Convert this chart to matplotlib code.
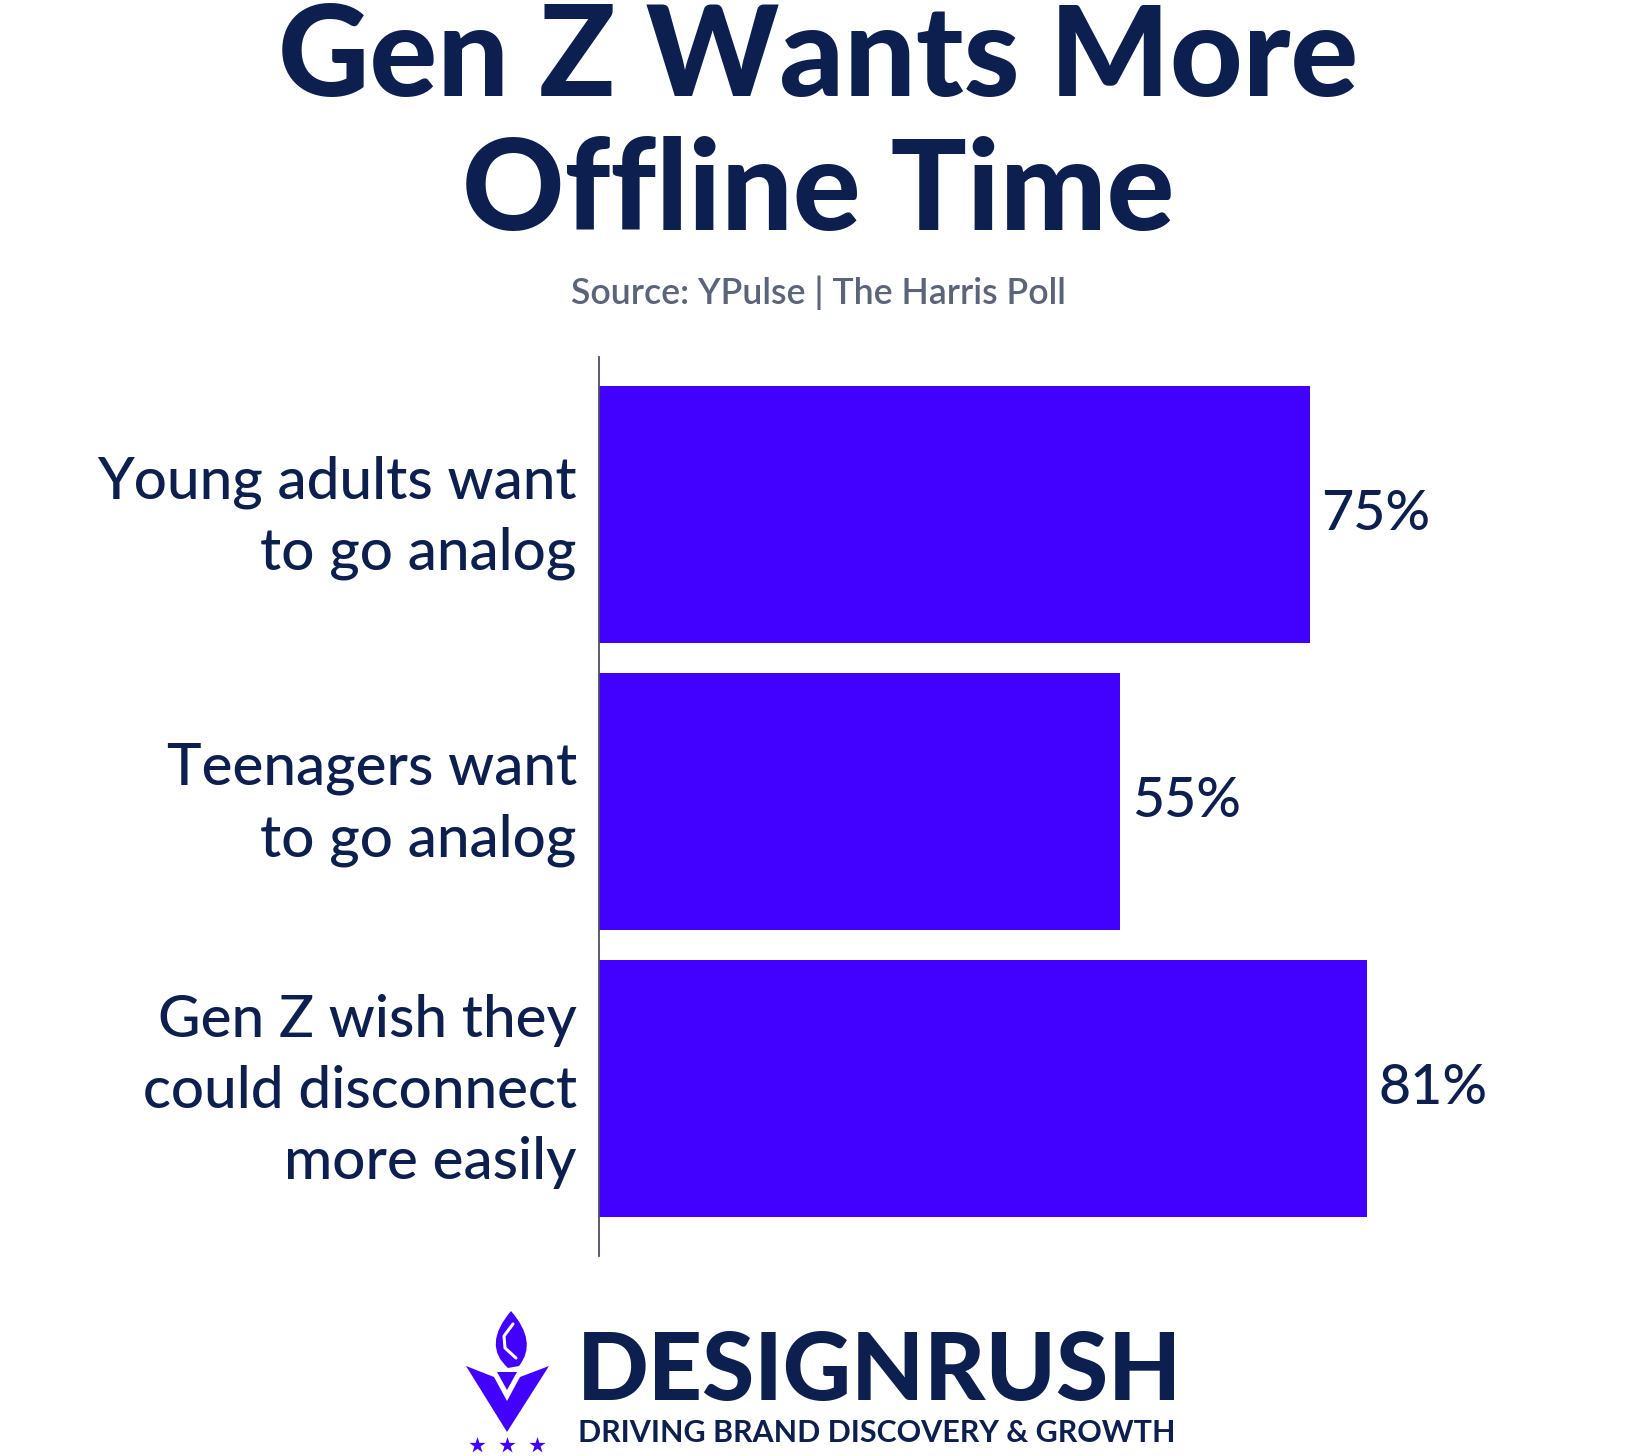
import matplotlib
matplotlib.use('Agg')
import matplotlib.pyplot as plt
from matplotlib.patches import Polygon, PathPatch
from matplotlib.path import Path
from matplotlib.transforms import ScaledTranslation

categories = ['Young adults want\nto go analog',
              'Teenagers want\nto go analog',
              'Gen Z wish they\ncould disconnect\nmore easily']
values = [75, 55, 81]
value_labels = ['75%', '55%', '81%']

title_lines = ['Gen Z Wants More', 'Offline Time']
source = 'Source: YPulse | The Harris Poll'
brand = 'DESIGNRUSH'
tagline = 'DRIVING BRAND DISCOVERY & GROWTH'

navy = '#0c1f4f'
purple = '#4200ff'
W, H = 1636, 1456

plt.rcParams['font.family'] = ['Lato', 'DejaVu Sans']
fig = plt.figure(figsize=(W / 100, H / 100), dpi=100)
fig.patch.set_facecolor('white')

# title block
fig.text(0.5, 1 - 96 / H, title_lines[0], ha='center', va='baseline',
         fontsize=91, fontweight='black', color=navy)
fig.text(0.5, 1 - 230 / H, title_lines[1], ha='center', va='baseline',
         fontsize=91, fontweight='black', color=navy)
fig.text(0.5, 1 - 304 / H, source, ha='center', va='baseline',
         fontsize=25.7, fontweight='semibold', color='#5b6478')

# bar chart
ax = fig.add_axes([599 / W, 1 - 1256 / H, 948 / W, 899 / H])
ax.barh(range(len(values)), values, height=0.895, color=purple)
ax.set_ylim(2.584, -0.549)
ax.set_xlim(0, 100)
for s in ['top', 'right', 'bottom']:
    ax.spines[s].set_visible(False)
ax.spines['left'].set_color('#4a4f63')
ax.spines['left'].set_linewidth(1.3)
ax.set_xticks([])
ax.set_yticks(range(len(categories)))
ax.set_yticklabels(categories, fontsize=42, fontweight='medium', color=navy,
                   linespacing=1.42)
ax.tick_params(axis='y', length=0, pad=16)
# nudge the multi-line labels up so the text block sits on the bar centre
for lab in ax.get_yticklabels():
    lab.set_transform(lab.get_transform() +
                      ScaledTranslation(0, 0.11, fig.dpi_scale_trans))
for i, v in enumerate(values):
    ax.text(v + 1.2, i, value_labels[i], va='center', ha='left',
            fontsize=40, fontweight='medium', color=navy)

# logo
lg = fig.add_axes([0, 0, 1, 1], zorder=-1)
lg.set_xlim(0, W)
lg.set_ylim(H, 0)
lg.axis('off')
lg.add_patch(Polygon([(466, 1366), (494, 1377), (507, 1401), (520, 1377),
                      (549, 1366), (507, 1432)], closed=True,
                     facecolor=purple, edgecolor='none'))
lg.add_patch(Polygon([(497, 1372), (517, 1372), (507, 1390)], closed=True,
                     facecolor=purple, edgecolor='none'))
flame = Path([(511, 1311), (538, 1342), (519, 1366), (508, 1368),
              (482, 1345), (511, 1311)],
             [Path.MOVETO, Path.CURVE3, Path.CURVE3, Path.LINETO,
              Path.CURVE3, Path.CURVE3])
lg.add_patch(PathPatch(flame, facecolor=purple, edgecolor='none'))
lg.plot([513, 504, 505, 516], [1324, 1336, 1348, 1358], color='white', lw=2.2,
        solid_capstyle='round')
lg.scatter([477, 507, 537], [1445, 1445, 1445], marker='*', s=150,
           color=purple, linewidths=0)

lg.text(577, 1400, brand, ha='left', va='baseline', fontsize=68,
        fontweight='black', color=navy)
lg.text(578, 1442, tagline, ha='left', va='baseline', fontsize=21.9,
        fontweight='bold', color=navy)

fig.savefig('out.png', dpi=100, facecolor='white')
